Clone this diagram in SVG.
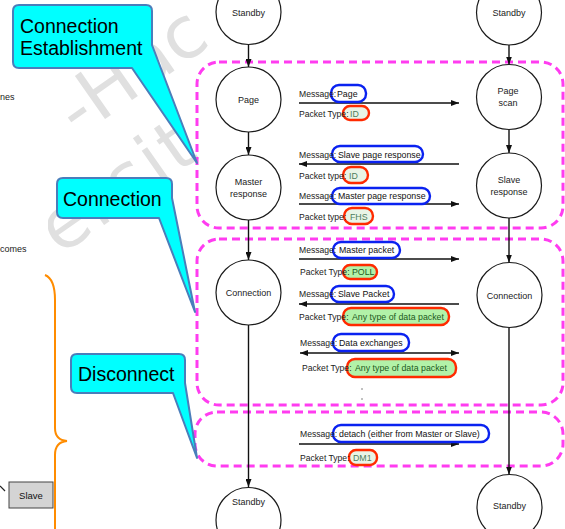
<svg xmlns="http://www.w3.org/2000/svg" width="565" height="529" viewBox="0 0 565 529">
  <defs>
    <style>
      text { font-family: "Liberation Sans", Arial, sans-serif; }
      .state circle { fill: #fff; stroke: #1a1a1a; stroke-width: 1.2; }
      .state text { font-size: 9px; fill: #222; text-anchor: middle; }
      .flow line { stroke: #111; stroke-width: 1.4; }
      .msg { font-size: 8.6px; fill: #222; }
      .val { font-size: 8.8px; fill: #111; }
      .val-g { font-size: 8.8px; fill: #1d5a1d; }
      .val-p { font-size: 8.8px; fill: #4f7d5c; }
      .tag-b { fill: none; stroke: #0a22f0; stroke-width: 2.4; }
      .tag-r { fill: #e9f4e6; stroke: #ff2a00; stroke-width: 2.4; }
      .tag-rg { fill: #b2f2a8; stroke: #ff2a00; stroke-width: 2.4; }
      .phase { fill: none; stroke: #ff3cf0; stroke-width: 3; stroke-dasharray: 8 5; }
      .callout path { fill: #00ffff; stroke: #4a7ebb; stroke-width: 2; stroke-linejoin: round; }
      .callout text { font-size: 19.5px; fill: #000; }
      .side { font-size: 9px; fill: #222; }
      .wm { font-family: "DejaVu Sans", sans-serif; font-size: 72px; fill: #e0e0e0; }
    </style>
    <marker id="ah" viewBox="0 0 8 6" refX="8" refY="3" markerWidth="8" markerHeight="6" markerUnits="userSpaceOnUse" orient="auto-start-reverse">
      <path d="M0,0 L8,3 L0,6 Z" fill="#111"/>
    </marker>
    <clipPath id="wmclip">
      <rect x="48" y="0" width="167" height="300"/>
    </clipPath>
  </defs>

  <rect width="565" height="529" fill="#fff"/>

  <!-- faint background watermark -->
  <g id="watermark" clip-path="url(#wmclip)">
    <text class="wm" x="78" y="138" transform="rotate(-35 78 138)">-Hac</text>
    <text class="wm" x="60" y="256" transform="rotate(-35 60 256)" letter-spacing="3">ersit</text>
  </g>

  <!-- left margin fragments -->
  <g id="margin">
    <text class="side" x="0" y="100">nes</text>
    <text class="side" x="0" y="252">comes</text>
    <path d="M45,275 Q55,279 55,300 V428 Q55,440 67,441 Q55,442 55,455 V529" fill="none" stroke="#ff8c00" stroke-width="2"/>
    <line x1="0" y1="486" x2="5" y2="491" stroke="#222" stroke-width="1.2"/>
    <rect x="9" y="482" width="44" height="26" fill="#d4d4d4" stroke="#444" stroke-width="1"/>
    <text x="31" y="499" font-size="9.5" text-anchor="middle" fill="#111">Slave</text>
  </g>

  <!-- phase outlines -->
  <g id="phases">
    <rect class="phase" x="197" y="62" width="366" height="166" rx="22"/>
    <rect class="phase" x="197" y="239" width="366" height="166" rx="22"/>
    <rect class="phase" x="195" y="412" width="368" height="54" rx="22"/>
  </g>

  <!-- connectors -->
  <g id="connectors" class="flow">
    <line x1="248.5" y1="45" x2="248.5" y2="67" marker-end="url(#ah)"/>
    <line x1="248.5" y1="132" x2="248.5" y2="155" marker-end="url(#ah)"/>
    <line x1="248.5" y1="220" x2="248.5" y2="260" marker-end="url(#ah)"/>
    <line x1="248.5" y1="325" x2="248.5" y2="487" marker-end="url(#ah)"/>
    <line x1="509" y1="45" x2="509" y2="64.5" marker-end="url(#ah)"/>
    <line x1="509" y1="129.5" x2="509" y2="153" marker-end="url(#ah)"/>
    <line x1="509" y1="218" x2="509" y2="262.5" marker-end="url(#ah)"/>
    <line x1="509" y1="327.5" x2="509" y2="474.5" marker-end="url(#ah)"/>
    <line x1="299" y1="103" x2="459" y2="103" marker-end="url(#ah)"/>
    <line x1="459" y1="164" x2="299" y2="164" marker-end="url(#ah)"/>
    <line x1="299" y1="204" x2="459" y2="204" marker-end="url(#ah)"/>
    <line x1="299" y1="259" x2="459" y2="259" marker-end="url(#ah)"/>
    <line x1="459" y1="304" x2="299" y2="304" marker-end="url(#ah)"/>
    <line x1="300" y1="353" x2="459" y2="353" marker-start="url(#ah)" marker-end="url(#ah)"/>
    <line x1="299" y1="444" x2="459" y2="444" marker-end="url(#ah)"/>
  </g>

  <!-- master states -->
  <g id="m-standby" class="state"><circle cx="248.5" cy="12" r="32.5"/><text x="248.5" y="16">Standby</text></g>
  <g id="m-page" class="state"><circle cx="248.5" cy="99.5" r="32.5"/><text x="248.5" y="102.5">Page</text></g>
  <g id="m-response" class="state"><circle cx="248.5" cy="187.5" r="32.5"/><text x="248.5" y="185">Master</text><text x="248.5" y="196.5">response</text></g>
  <g id="m-connection" class="state"><circle cx="248.5" cy="292.5" r="32.5"/><text x="248.5" y="296">Connection</text></g>
  <g id="m-standby-end" class="state"><circle cx="248.5" cy="520" r="32.5"/><text x="248.5" y="505">Standby</text></g>

  <!-- slave states -->
  <g id="s-standby" class="state"><circle cx="509" cy="12.5" r="32.5"/><text x="509" y="16">Standby</text></g>
  <g id="s-pagescan" class="state"><circle cx="509" cy="97" r="32.5"/><text x="508" y="94">Page</text><text x="508" y="105.5">scan</text></g>
  <g id="s-response" class="state"><circle cx="509" cy="185.5" r="32.5"/><text x="509" y="183">Slave</text><text x="509" y="195">response</text></g>
  <g id="s-connection" class="state"><circle cx="509.5" cy="295" r="32.5"/><text x="509.5" y="298.5">Connection</text></g>
  <g id="s-standby-end" class="state"><circle cx="509.5" cy="507" r="32.5"/><text x="509.5" y="509">Standby</text></g>

  <!-- message / packet tags -->
  <g id="tags">
    <rect class="tag-b" x="331" y="85" width="35" height="17" rx="8"/>
    <rect class="tag-r" x="343" y="106" width="26" height="14" rx="7"/>
    <rect class="tag-b" x="332" y="146" width="91" height="16" rx="8"/>
    <rect class="tag-r" x="343" y="167" width="25" height="16" rx="8"/>
    <rect class="tag-b" x="332" y="188" width="98" height="16" rx="8"/>
    <rect class="tag-r" x="344" y="208" width="29" height="16" rx="8"/>
    <rect class="tag-b" x="333" y="242" width="67" height="16" rx="8"/>
    <rect class="tag-rg" x="343" y="265" width="34" height="14" rx="7"/>
    <rect class="tag-b" x="331" y="286" width="63" height="16" rx="8"/>
    <rect class="tag-rg" x="343" y="308" width="106" height="17" rx="8"/>
    <rect class="tag-b" x="333" y="334" width="76" height="17" rx="8"/>
    <rect class="tag-rg" x="347" y="359" width="109" height="18" rx="8"/>
    <rect class="tag-b" x="333" y="425" width="156" height="17" rx="8"/>
    <rect class="tag-r" x="349" y="450" width="28" height="15" rx="7"/>
  </g>

  <g id="labels">
    <text class="msg" x="299" y="97">Message:<tspan class="val" x="337">Page</tspan></text>
    <text class="msg" x="299" y="116.5">Packet Type:<tspan class="val-p" x="350">ID</tspan></text>
    <text class="msg" x="299" y="157.5">Message:<tspan class="val" x="338">Slave page response</tspan></text>
    <text class="msg" x="299" y="178.5">Packet type:<tspan class="val-p" x="349">ID</tspan></text>
    <text class="msg" x="299" y="198.5">Message:<tspan class="val" x="338">Master page response</tspan></text>
    <text class="msg" x="299" y="219.5">Packet type:<tspan class="val-p" x="350">FHS</tspan></text>
    <text class="msg" x="299" y="253">Message:<tspan class="val" x="339">Master packet</tspan></text>
    <text class="msg" x="300" y="275">Packet Type:<tspan class="val-g" x="352">POLL</tspan></text>
    <text class="msg" x="299" y="297">Message:<tspan class="val" x="338">Slave Packet</tspan></text>
    <text class="msg" x="299" y="320">Packet Type:<tspan class="val-g" x="352">Any type of data packet</tspan></text>
    <text class="msg" x="300" y="345.5">Message:<tspan class="val" x="339">Data exchanges</tspan></text>
    <text class="msg" x="302" y="371">Packet Type:<tspan class="val-g" x="355">Any type of data packet</tspan></text>
    <text class="msg" x="300" y="436.5">Message:<tspan class="val" x="339">detach (either from Master or Slave)</tspan></text>
    <text class="msg" x="300" y="460.5">Packet Type:<tspan class="val-p" x="353">DM1</tspan></text>
    <circle cx="362" cy="389" r="0.7" fill="#555"/>
    <circle cx="362" cy="399" r="0.7" fill="#555"/>
  </g>

  <!-- phase callouts -->
  <g id="callout-establishment" class="callout">
    <path d="M19,5 H146 Q152,5 152,11 V45 L197,163 L132,68 H19 Q13,68 13,62 V11 Q13,5 19,5 Z"/>
    <text x="20" y="33">Connection</text>
    <text x="20" y="55">Establishment</text>
  </g>
  <g id="callout-connection" class="callout">
    <path d="M63,178 H166 Q172,178 172,184 V198 L195,312 L159,218 H63 Q57,218 57,212 V184 Q57,178 63,178 Z"/>
    <text x="63" y="206">Connection</text>
  </g>
  <g id="callout-disconnect" class="callout">
    <path d="M77,354 H179 Q185,354 185,360 V383 L197,458 L173,393 H77 Q71,393 71,387 V360 Q71,354 77,354 Z"/>
    <text x="78" y="381">Disconnect</text>
  </g>
</svg>
